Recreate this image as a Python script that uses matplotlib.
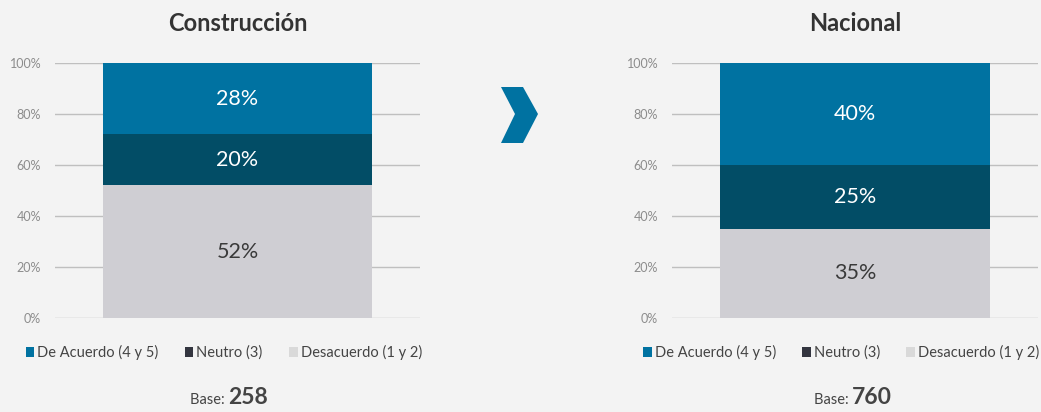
import matplotlib
matplotlib.use("Agg")
import matplotlib.pyplot as plt
from matplotlib.patches import Patch, Polygon

# ---------------------------------------------------------------------------
# data
panels = ["Construcción", "Nacional"]
bases = [258, 760]
categories = ["De Acuerdo (4 y 5)", "Neutro (3)", "Desacuerdo (1 y 2)"]
de_acuerdo = [28, 40]
neutro = [20, 25]
desacuerdo = [52, 35]
yticks = [0, 20, 40, 60, 80, 100]

# ---------------------------------------------------------------------------
# styles
bg = "#F3F3F3"
bar_colors = {"De Acuerdo (4 y 5)": "#0072A1",
              "Neutro (3)": "#024D66",
              "Desacuerdo (1 y 2)": "#CFCED3"}
legend_colors = ["#0072A1", "#33353F", "#D9D9D9"]
label_colors = ["white", "white", "#3A3A3A"]
grid_col = "#BFBFBF"

plt.rcParams["font.family"] = ["Lato", "DejaVu Sans"]

W, H = 1041, 412
fig = plt.figure(figsize=(W / 100, H / 100), dpi=100, facecolor=bg)

# axes rectangles in pixels: (left, right)
ax_px = [(55, 420), (672, 1038)]
top_px, bot_px = 63, 318

for i, name in enumerate(panels):
    l, r = ax_px[i]
    ax = fig.add_axes([l / W, 1 - bot_px / H, (r - l) / W, (bot_px - top_px) / H])
    ax.set_facecolor(bg)

    series = [de_acuerdo[i], neutro[i], desacuerdo[i]]
    # stack from the bottom: desacuerdo, neutro, de acuerdo
    order = [2, 1, 0]
    bottom = 0
    for k in order:
        v = series[k]
        ax.bar(0.5, v, width=0.737, bottom=bottom,
               color=bar_colors[categories[k]], zorder=3)
        ax.text(0.5, bottom + v / 2, f"{v}%", ha="center", va="center",
                fontsize=15.5, color=label_colors[k], zorder=4)
        bottom += v

    ax.set_xlim(0, 1)
    ax.set_ylim(0, 100)
    ax.set_yticks(yticks)
    ax.set_yticklabels([f"{t}%" for t in yticks], fontsize=9, color="#8C8C8C")
    ax.set_xticks([])
    ax.tick_params(axis="y", length=0, pad=10)
    for s in ax.spines.values():
        s.set_visible(False)
    ax.yaxis.grid(True, color=grid_col, linewidth=1)
    ax.set_axisbelow(True)

    ax.set_title(name, fontsize=17, fontweight="bold", color="#333333", pad=23)

    handles = [Patch(facecolor=c, edgecolor="none") for c in legend_colors]
    ax.legend(handles, categories, loc="upper center",
              bbox_to_anchor=(0.462, -0.055), ncol=3, frameon=False,
              fontsize=10.5, handlelength=0.6, handleheight=0.6,
              handletextpad=0.2, columnspacing=1.8, labelcolor="#444444")

    # "Base: n" below each panel
    split = [228, 852][i]
    fig.text(split / W, 1 - 400 / H, "Base: ", ha="right", va="center",
             fontsize=10.5, color="#444444")
    fig.text(split / W, 1 - 398 / H, str(bases[i]), ha="left", va="center",
             fontsize=16.5, fontweight="bold", color="#444444")

# chevron between the two panels
chev = [(501, 87), (523, 87), (538, 114), (523, 143), (501, 143), (515, 114)]
fig.patches.append(Polygon([(x / W, 1 - y / H) for x, y in chev], closed=True,
                           transform=fig.transFigure, facecolor="#0072A1",
                           edgecolor="none"))

fig.savefig("out.png", dpi=100, facecolor=bg)
